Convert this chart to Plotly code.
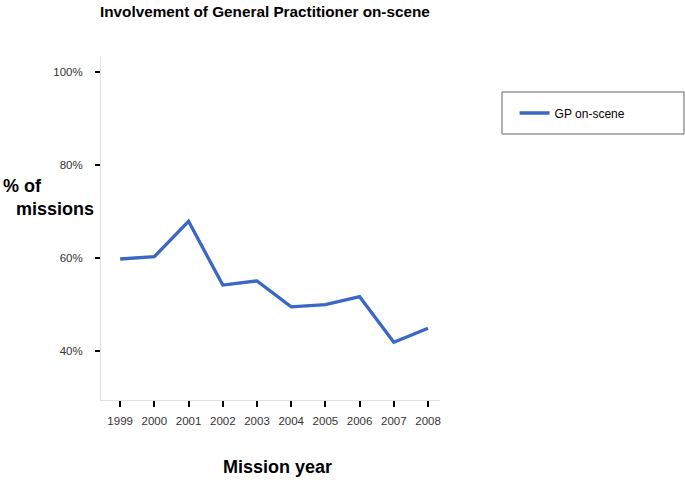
import plotly.graph_objects as go

years = [1999, 2000, 2001, 2002, 2003, 2004, 2005, 2006, 2007, 2008]
gp_on_scene = [59.8, 60.3, 67.9, 54.2, 55.1, 49.5, 50.0, 51.7, 41.9, 44.9]
y_ticks = [40, 60, 80, 100]
y_tick_labels = ["40%", "60%", "80%", "100%"]

fig = go.Figure()
fig.add_trace(go.Scatter(
    x=years, y=gp_on_scene, mode="lines", name="GP on-scene",
    line=dict(color="#3a68c4", width=3.3),
))

fig.update_layout(
    width=685, height=482,
    margin=dict(l=101, r=245, t=57, b=82),
    paper_bgcolor="white", plot_bgcolor="white",
    font=dict(family="Liberation Sans, Arial, sans-serif", color="#333"),
    title=dict(text="<b>Involvement of General Practitioner on-scene</b>",
               x=100/685, xanchor="left", y=1-12/482, yanchor="middle",
               font=dict(size=15.3, color="black")),
    showlegend=True,
    legend=dict(x=1.22, xanchor="left", y=1-(113-57)/343, yanchor="middle",
                bgcolor="rgba(0,0,0,0)", borderwidth=0,
                font=dict(size=12, color="black")),
    shapes=[dict(type="rect", xref="paper", yref="paper",
                 x0=(502-101)/339, x1=(684-101)/339,
                 y0=1-(134-57)/343, y1=1-(92-57)/343,
                 line=dict(color="#666", width=1))],
    annotations=[
        dict(text="<b>% of</b>", xref="paper", yref="paper",
             x=(1-101)/339, xanchor="left", y=1-(186-57)/343, yanchor="middle",
             showarrow=False, font=dict(size=18, color="black")),
        dict(text="<b>missions</b>", xref="paper", yref="paper",
             x=(14-101)/339, xanchor="left", y=1-(209-57)/343, yanchor="middle",
             showarrow=False, font=dict(size=18, color="black")),
        dict(text="<b>Mission year</b>", xref="paper", yref="paper",
             x=(277-101)/339, xanchor="center", y=1-(467-57)/343, yanchor="middle",
             showarrow=False, font=dict(size=18, color="black")),
    ],
)

fig.update_xaxes(
    range=[1998.44, 2008.35], tickvals=years, ticktext=[str(y) for y in years],
    showgrid=False, zeroline=False, showline=True, linecolor="#e2e2e2", linewidth=1,
    ticks="outside", ticklen=6, tickwidth=2, tickcolor="black",
    ticklabelstandoff=4, tickfont=dict(size=11.5, color="#333"),
)
fig.update_yaxes(
    range=[29.5, 103.2], tickvals=y_ticks, ticktext=y_tick_labels,
    showgrid=False, zeroline=False, showline=True, linecolor="#e2e2e2", linewidth=1,
    ticks="outside", ticklen=5, tickwidth=2, tickcolor="black",
    ticklabelstandoff=10, tickfont=dict(size=11.5, color="#333"),
)

fig.write_html("out.html", config={"displayModeBar": False},
               post_script="document.body.style.margin='0';document.body.style.padding='0';")
